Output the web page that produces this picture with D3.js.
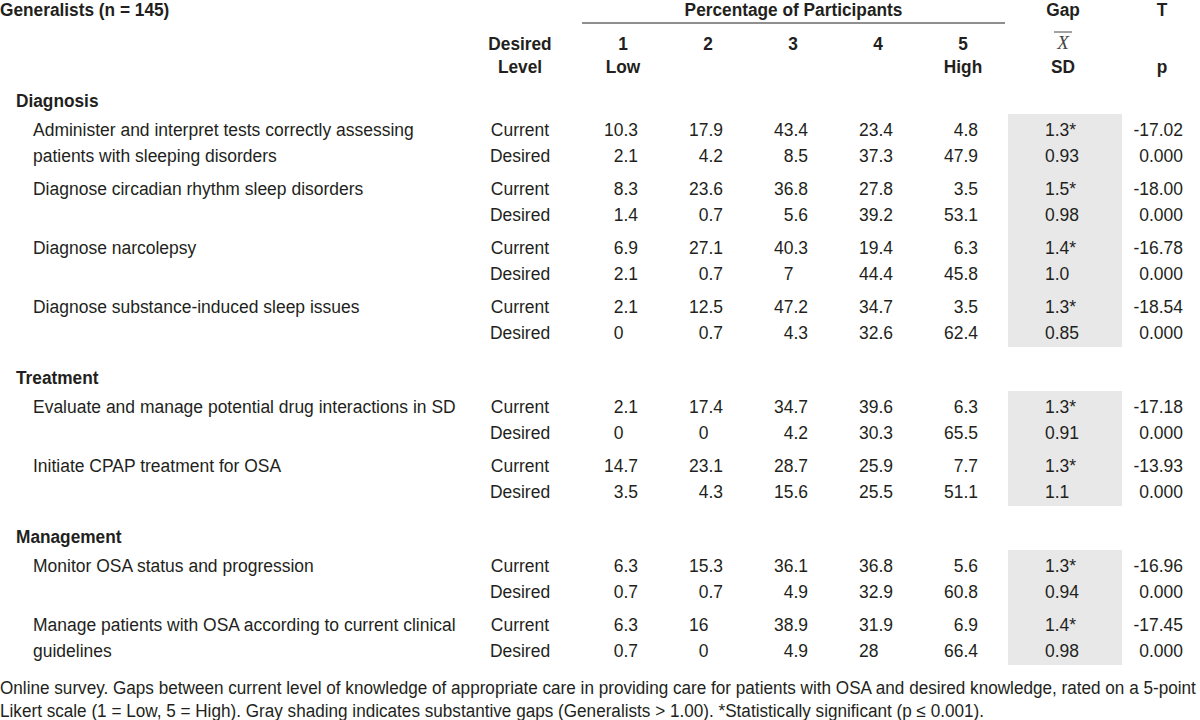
<!DOCTYPE html>
<html><head><meta charset="utf-8">
<script src="https://cdn.jsdelivr.net/npm/d3@7"></script>
<style>body{margin:0;background:#fff} svg{display:block}</style>
</head><body><svg id="c" width="1200" height="720"></svg>
<script>
const title = "Generalists (n = 145)";
const groupHeader = "Percentage of Participants";
const levelLabels = ["1","2","3","4","5"];
const levelSub = ["Low","","","","High"];
const desiredHeader = ["Desired","Level"];
const gapHeader = ["Gap","SD"];
const tHeader = ["T","p"];
const sections = ["Diagnosis","Treatment","Management"];
const itemLabels = [
 ["Administer and interpret tests correctly assessing","patients with sleeping disorders"],
 ["Diagnose circadian rhythm sleep disorders"],
 ["Diagnose narcolepsy"],
 ["Diagnose substance-induced sleep issues"],
 ["Evaluate and manage potential drug interactions in SD"],
 ["Initiate CPAP treatment for OSA"],
 ["Monitor OSA status and progression"],
 ["Manage patients with OSA according to current clinical","guidelines"]
];
const itemSection = [0,0,0,0,1,1,2,2];
const rowTypes = ["Current","Desired"];
const currentPct = [
 ["10.3","17.9","43.4","23.4","4.8"],
 ["8.3","23.6","36.8","27.8","3.5"],
 ["6.9","27.1","40.3","19.4","6.3"],
 ["2.1","12.5","47.2","34.7","3.5"],
 ["2.1","17.4","34.7","39.6","6.3"],
 ["14.7","23.1","28.7","25.9","7.7"],
 ["6.3","15.3","36.1","36.8","5.6"],
 ["6.3","16","38.9","31.9","6.9"]
];
const desiredPct = [
 ["2.1","4.2","8.5","37.3","47.9"],
 ["1.4","0.7","5.6","39.2","53.1"],
 ["2.1","0.7","7","44.4","45.8"],
 ["0","0.7","4.3","32.6","62.4"],
 ["0","0","4.2","30.3","65.5"],
 ["3.5","4.3","15.6","25.5","51.1"],
 ["0.7","0.7","4.9","32.9","60.8"],
 ["0.7","0","4.9","28","66.4"]
];
const gapMean = ["1.3*","1.5*","1.4*","1.3*","1.3*","1.3*","1.3*","1.4*"];
const gapSD = ["0.93","0.98","1.0","0.85","0.91","1.1","0.94","0.98"];
const tValue = ["-17.02","-18.00","-16.78","-18.54","-17.18","-13.93","-16.96","-17.45"];
const pValue = ["0.000","0.000","0.000","0.000","0.000","0.000","0.000","0.000"];
const footnote = [
 "Online survey. Gaps between current level of knowledge of appropriate care in providing care for patients with OSA and desired knowledge, rated on a 5-point",
 "Likert scale (1 = Low, 5 = High). Gray shading indicates substantive gaps (Generalists > 1.00). *Statistically significant (p \u2264 0.001)."
];

const FONT = "'Liberation Sans','Arial','Helvetica',sans-serif";
const INK = "#231f20";
const FS = 19;
const svg = d3.select("#c");
svg.append("rect").attr("width",1200).attr("height",720).attr("fill","#fff");
const g = svg.append("g").attr("font-family", FONT).attr("fill", INK).attr("font-size", FS);

// emulate a narrow face: measure a reference label and derive the horizontal squeeze
function measure(str, size, weight) {
  const t = g.append("text").attr("font-size", size).attr("font-weight", weight||"normal").text(str);
  const w = t.node().getComputedTextLength(); t.remove(); return w;
}
const SX = Math.min(1, 381 / measure(itemLabels[0][0], FS));
const SXB = Math.min(1, 218 / measure(groupHeader, 18, "bold"));

function txt(x, y, str, o) {
  o = o || {};
  const t = g.append("text")
    .attr("transform", `translate(${x},${y}) scale(${o.sx || (o.bold ? SXB : SX)},1)`)
    .attr("text-anchor", o.anchor || "start")
    .text(str);
  if (o.bold) t.attr("font-weight", "bold").attr("font-size", 18);
  if (o.size) t.attr("font-size", o.size);
  return t;
}

// horizontal scales
const xLevel = d3.scaleLinear().domain([1,5]).range([623, 963]); // column centres
const colRight = d => xLevel(d) + 15;
const xDesired = 520, xLabel = 33, xSection = 16;
const gapBox = {x0: 1008, x1: 1122};
const xGapText = 1045, xGapHead = 1063, xT = 1183, xTHead = 1162;

// vertical layout
const lineH = 26, pairGap = 33, sectionGap = 45, headToRow = 29;
const rows = [];
const secY = [];
let y = 107;
for (let s = 0; s < sections.length; s++) {
  secY.push(y);
  const items = itemSection.map((v,i)=>v===s?i:-1).filter(i=>i>=0);
  y += headToRow;
  items.forEach((it, k) => {
    rows.push({item: it, type: 0, y: y});
    rows.push({item: it, type: 1, y: y + lineH});
    y += lineH + (k < items.length-1 ? pairGap : 0);
  });
  y += sectionGap;
}

// header
txt(0, 16, title, {bold:true});
txt((582+1005)/2, 16, groupHeader, {bold:true, anchor:"middle"});
g.append("line").attr("x1",582).attr("x2",1005).attr("y1",23).attr("y2",23).attr("stroke",INK).attr("stroke-width",1.2);
txt(xGapHead, 16, gapHeader[0], {bold:true, anchor:"middle"});
txt(xTHead, 16, tHeader[0], {bold:true, anchor:"middle"});
desiredHeader.forEach((t,i)=>txt(xDesired, 50+i*23, t, {bold:true, anchor:"middle"}));
levelLabels.forEach((t,i)=>{
  txt(xLevel(i+1), 50, t, {bold:true, anchor:"middle"});
  if (levelSub[i]) txt(xLevel(i+1), 73, levelSub[i], {bold:true, anchor:"middle"});
});
// X-bar
g.append("text").attr("x",xGapHead).attr("y",49).attr("text-anchor","middle")
  .attr("font-family","'Liberation Serif','DejaVu Serif',serif").attr("font-style","italic")
  .attr("font-size",19).attr("fill","#444").text("X");
g.append("line").attr("x1",xGapHead-9).attr("x2",xGapHead+9).attr("y1",32).attr("y2",32).attr("stroke","#444").attr("stroke-width",1);
txt(xGapHead, 73, gapHeader[1], {bold:true, anchor:"middle"});
txt(xTHead, 73, tHeader[1], {bold:true, anchor:"middle"});

// gray boxes per section
sections.forEach((s,si)=>{
  const rs = rows.filter(r=>itemSection[r.item]===si);
  const top = d3.min(rs, r=>r.y) - 22, bot = d3.max(rs, r=>r.y) + 8;
  g.insert("rect", ":first-child").attr("x",gapBox.x0).attr("y",top).attr("width",gapBox.x1-gapBox.x0).attr("height",bot-top).attr("fill","#e8e8e8");
});

// section titles
sections.forEach((s,si)=>txt(xSection, secY[si], s, {bold:true}));

// width of ".0" for decimal alignment
const fracW = measure(".0", FS) * SX;

rows.forEach(r=>{
  const it = r.item;
  if (r.type===0) itemLabels[it].forEach((l,li)=>txt(xLabel, r.y+li*lineH, l));
  txt(xDesired, r.y, rowTypes[r.type], {anchor:"middle"});
  const vals = (r.type===0?currentPct:desiredPct)[it];
  vals.forEach((v,ci)=>{
    const dec = colRight(ci+1) - fracW;
    const parts = v.split(".");
    txt(dec, r.y, parts[0], {anchor:"end"});
    if (parts.length>1) txt(dec, r.y, "."+parts[1]);
  });
  txt(xGapText, r.y, r.type===0?gapMean[it]:gapSD[it]);
  txt(xT, r.y, r.type===0?tValue[it]:pValue[it], {anchor:"end"});
});

// footnote, squeezed to span the page width like the reference
const FSX = Math.min(1, 1197 / measure(footnote[0], 18));
footnote.forEach((t,i)=>txt(0, 694+i*23, t, {size:18, sx: FSX}));
</script></body></html>
